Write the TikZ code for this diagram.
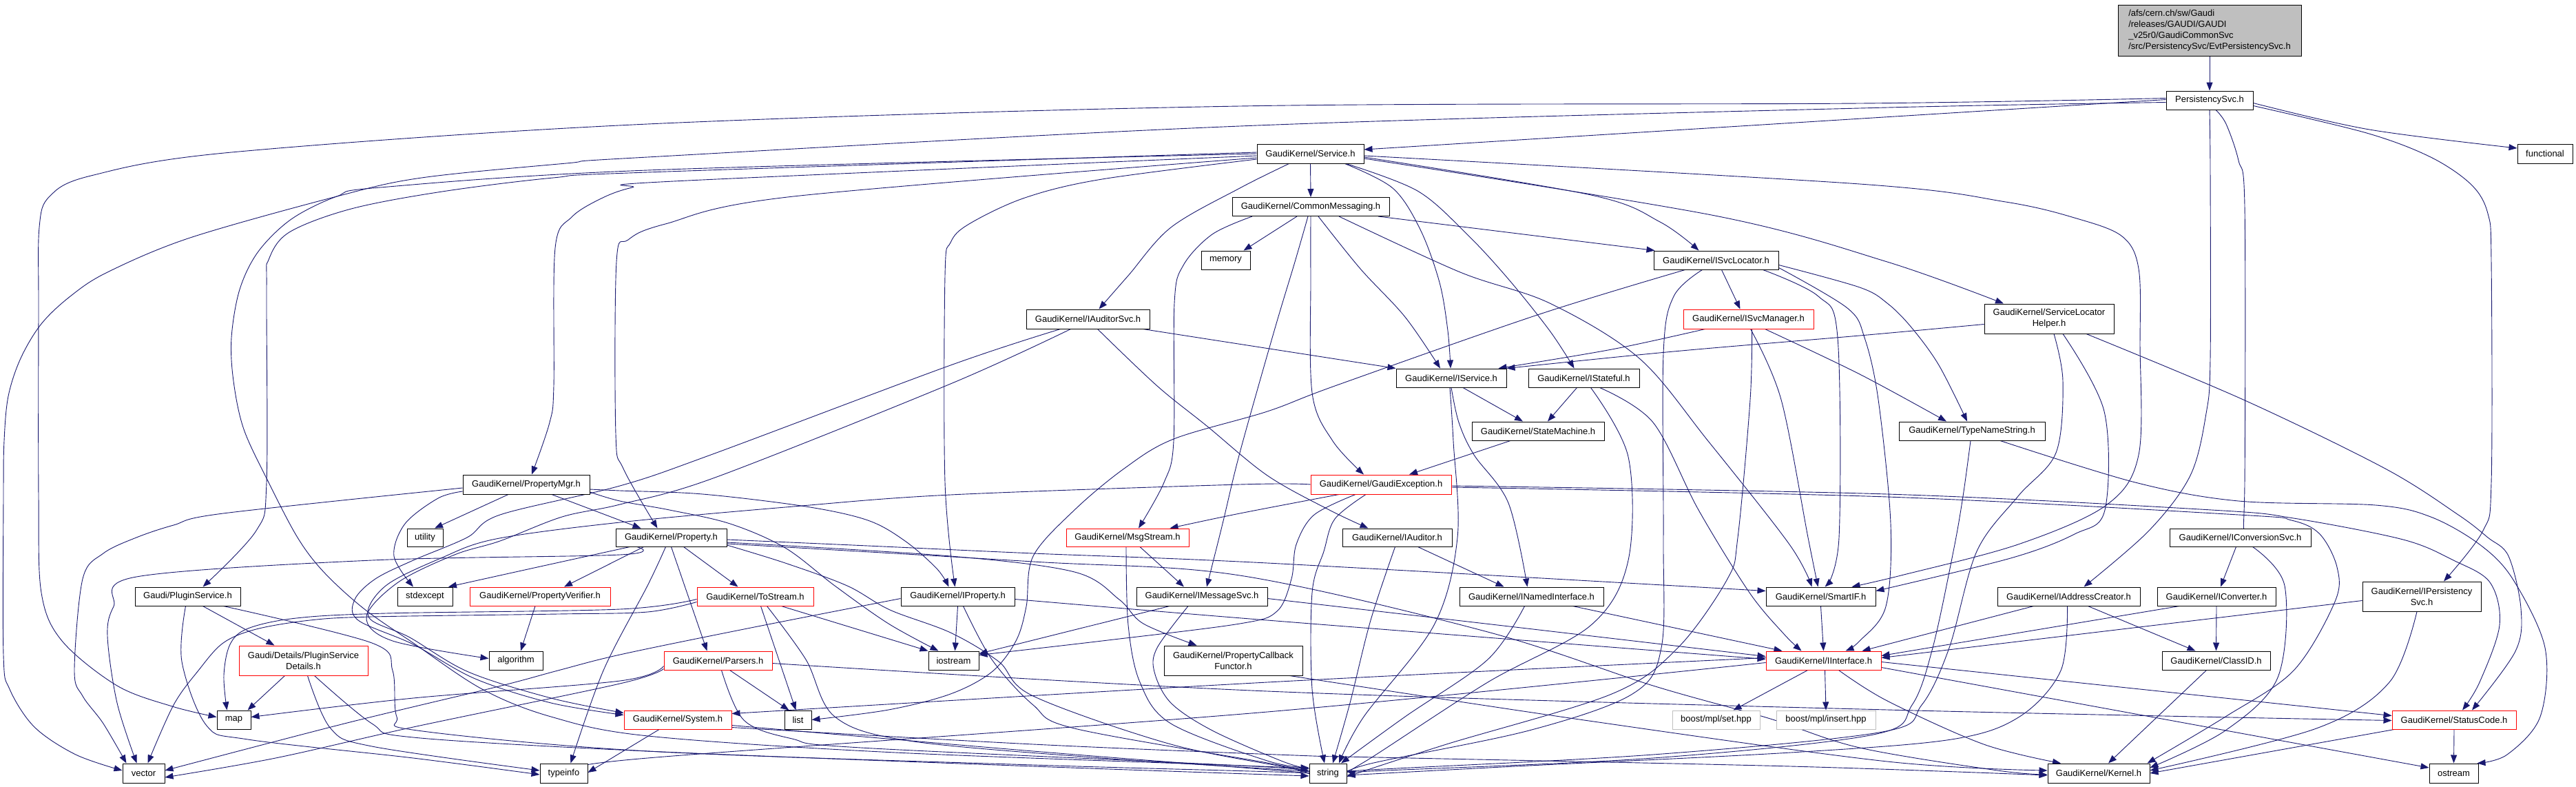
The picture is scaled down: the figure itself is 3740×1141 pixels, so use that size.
\documentclass[tikz,border=0pt]{standalone}
\usepackage{fontspec}
\setmainfont{Liberation Sans}
\usetikzlibrary{arrows.meta,backgrounds}
\definecolor{eblue}{RGB}{25,25,112}
\definecolor{rootgray}{RGB}{191,191,191}
\definecolor{lgray}{RGB}{191,191,191}
\tikzset{
 nd/.style={draw=black, line width=1pt, fill=white, inner sep=0pt, minimum height=27pt, font=\fontsize{13pt}{16pt}\selectfont, align=center},
 rd/.style={nd, draw=red},
 gr/.style={nd, draw=lgray},
 wd/.style={minimum width=#1pt},
 ht/.style={minimum height=#1pt},
 lnk/.style={draw=eblue, line width=0.9pt, -{Triangle[length=12pt,width=9pt]}},
}
\newcommand\curv[1]{\draw[lnk] plot[smooth,tension=0.55] coordinates {#1};}
\begin{document}
\begin{tikzpicture}[x=1pt,y=-1pt]
\useasboundingbox (0,0) rectangle (3740,1141);
% nodes
\node[nd, wd=266, ht=74, fill=rootgray, align=left] (root) at (3208,44) {/afs/cern.ch/sw/Gaudi\\/releases/GAUDI/GAUDI\\\_v25r0/GaudiCommonSvc\\/src/PersistencySvc/EvtPersistencySvc.h};
\node[nd, wd=126] (ps) at (3208,145.5) {PersistencySvc.h};
\node[nd, wd=80, ht=28] (func) at (3695,223) {functional};
\node[nd, wd=155, ht=28] (svc) at (1902.5,223) {GaudiKernel/Service.h};
\node[nd, wd=228] (cm) at (1903,300) {GaudiKernel/CommonMessaging.h};
\node[nd, wd=71] (mem) at (1779.5,377.5) {memory};
\node[nd, wd=181] (isl) at (2491.5,377.5) {GaudiKernel/ISvcLocator.h};
\node[nd, wd=179, ht=28] (ias) at (1579.5,463) {GaudiKernel/IAuditorSvc.h};
\node[rd, wd=189, ht=28] (ism) at (2538.5,463) {GaudiKernel/ISvcManager.h};
\node[nd, wd=188, ht=43] (slh) at (2975,462.5) {GaudiKernel/ServiceLocator\\Helper.h};
\node[nd, wd=160] (isv) at (2107,548.5) {GaudiKernel/IService.h};
\node[nd, wd=161] (ist) at (2299.5,548.5) {GaudiKernel/IStateful.h};
\node[nd, wd=192] (sm) at (2233,625.5) {GaudiKernel/StateMachine.h};
\node[nd, wd=212] (tns) at (2863,625.5) {GaudiKernel/TypeNameString.h};
\node[nd, wd=184, ht=28] (pmgr) at (764,703) {GaudiKernel/PropertyMgr.h};
\node[rd, wd=204, ht=28] (gex) at (2005,703) {GaudiKernel/GaudiException.h};
\node[nd, wd=52, ht=26] (util) at (617,780) {utility};
\node[nd, wd=161, ht=26] (prop) at (974.5,780) {GaudiKernel/Property.h};
\node[rd, wd=178, ht=26] (msg) at (1637,780) {GaudiKernel/MsgStream.h};
\node[nd, wd=159, ht=26] (iaud) at (2028.5,780) {GaudiKernel/IAuditor.h};
\node[nd, wd=205, ht=26] (ics) at (3252.5,780) {GaudiKernel/IConversionSvc.h};
\node[nd, wd=153] (plug) at (272.5,865.5) {Gaudi/PluginService.h};
\node[nd, wd=80] (stdx) at (617,865.5) {stdexcept};
\node[rd, wd=204] (pver) at (784,865.5) {GaudiKernel/PropertyVerifier.h};
\node[rd, wd=169] (tost) at (1096.5,865.5) {GaudiKernel/ToStream.h};
\node[nd, wd=165] (iprop) at (1390.5,865.5) {GaudiKernel/IProperty.h};
\node[nd, wd=190] (imsg) at (1745,865.5) {GaudiKernel/IMessageSvc.h};
\node[nd, wd=209] (inam) at (2223.5,865.5) {GaudiKernel/INamedInterface.h};
\node[nd, wd=159] (sif) at (2643.5,865.5) {GaudiKernel/SmartIF.h};
\node[nd, wd=207] (iac) at (3003.5,865.5) {GaudiKernel/IAddressCreator.h};
\node[nd, wd=172] (icv) at (3218,865.5) {GaudiKernel/IConverter.h};
\node[nd, wd=172, ht=43] (ipers) at (3516,865.5) {GaudiKernel/IPersistency\\Svc.h};
\node[rd, wd=187, ht=43] (psd) at (440.5,958.5) {Gaudi/Details/PluginService\\Details.h};
\node[nd, wd=78] (algo) at (749,958.5) {algorithm};
\node[rd, wd=157] (pars) at (1042.5,958.5) {GaudiKernel/Parsers.h};
\node[nd, wd=73] (iostr) at (1384.5,958.5) {iostream};
\node[nd, wd=201, ht=43] (pcf) at (1790.5,958.5) {GaudiKernel/PropertyCallback\\Functor.h};
\node[rd, wd=167] (iint) at (2647.5,958.5) {GaudiKernel/IInterface.h};
\node[nd, wd=157] (cid) at (3217.5,958.5) {GaudiKernel/ClassID.h};
\node[nd, wd=49] (map) at (339.5,1044.5) {map};
\node[rd, wd=156] (sys) at (984,1044.5) {GaudiKernel/System.h};
\node[nd, wd=39] (list) at (1158.5,1044.5) {list};
\node[gr, wd=127] (bset) at (2491.5,1044.5) {boost/mpl/set.hpp};
\node[gr, wd=144] (bins) at (2651,1044.5) {boost/mpl/insert.hpp};
\node[rd, wd=180] (stc) at (3563,1044.5) {GaudiKernel/StatusCode.h};
\node[nd, wd=61, ht=28] (vec) at (208.5,1122) {vector};
\node[nd, wd=69, ht=28] (tinf) at (818.5,1122) {typeinfo};
\node[nd, wd=54, ht=28] (str) at (1928,1122) {string};
\node[nd, wd=148, ht=28] (kern) at (3047,1122) {GaudiKernel/Kernel.h};
\node[nd, wd=71, ht=28] (ostr) at (3562.5,1122) {ostream};

\begin{scope}[on background layer]
\fill[white] (0,0) rectangle (3740,1141);
% root and PersistencySvc
\draw[lnk] (root.south) -- (ps.north);
\curv{([yshift=-4pt]ps.east) (3440,188) ([yshift=8pt]func.west)}
\draw[lnk] ([yshift=1pt]ps.west) -- ([yshift=6pt]svc.east);
\curv{([yshift=3pt]ps.west) (2700,150) (1800,154) (940,180) (336,221) (132,255) (72,285) (57,330) (56,450) (56,720) (60,860) (90,930) (170,995) (250,1025) ([yshift=4pt]map.west)}
\curv{([yshift=-3pt]ps.west) (2700,157) (1800,183) (940,228) (822,237) (612,258) (489,285) (276,345) (156,395) (102,430) (60,470) (30,520) (12,575) (6,640) (5,720) (5,950) (14,1000) (50,1055) (110,1095) ([yshift=4pt]vec.west)}
\curv{([xshift=9pt]ps.south) (3232,180) (3250,233) (3259,300) (3259,700) ([xshift=2pt]ics.north)}
\curv{(ps.south) (3209,250) (3209,520) (3203,600) (3180,690) (3120,770) ([xshift=22pt]iac.north)}
\curv{([yshift=-8pt]ps.east) (3436,193) (3529,228) (3588,268) (3612,310) (3617,380) (3617,700) (3605,770) ([xshift=32pt]ipers.north)}
% Service
\draw[lnk] (svc.south) -- (cm.north);
\curv{([yshift=-5pt]svc.east) (2310,283) (2410,322) ([xshift=-25pt]isl.north)}
\curv{([yshift=-3pt]svc.east) (2700,267) (2912,293) (3015,317) (3081,343) (3105,390) (3107,500) (3105,660) (3058,733) (2930,790) (2760,835) ([xshift=45pt]sif.north)}
\curv{([yshift=-7pt]svc.east) (2490,313) (2740,380) ([xshift=-66pt]slh.north)}
\curv{([xshift=50pt]svc.south) (2022,273) (2062,333) (2090,410) (2102,480) ([xshift=-1pt]isv.north)}
\curv{([xshift=52pt]svc.south) (2058,277) (2130,340) (2190,405) (2250,480) ([xshift=-14pt]ist.north)}
\curv{([xshift=-31pt]svc.south) (1800,273) (1700,330) (1638,400) ([xshift=16pt]ias.north)}
\curv{([yshift=-3pt]svc.west) (978,263) (918,272) (875,287) (830,315) (806,360) (804,560) (798,613) ([xshift=8pt]pmgr.north)}
\curv{([yshift=-6pt]svc.west) (1152,285) (966,325) (912,348) (895,380) (894,630) (905,680) ([xshift=-20pt]prop.north)}
\curv{([yshift=-8pt]svc.west) (1600,260) (1488,287) (1407,325) (1380,352) (1372,400) (1372,700) ([xshift=-4pt]iprop.north)}
\curv{([yshift=2pt]svc.west) (940,250) (803,258) (642,278) (510,303) (420,337) (390,377) (387,420) (387,700) (372,770) ([xshift=22pt]plug.north)}
\curv{(svc.west) (940,247) (552,272) (489,285) (423,318) (375,365) (348,420) (336,490) (339,553) (354,623) (390,700) (432,780) (470,830) (528,883) (600,933) (700,1000) (800,1040) (941,1068) (1300,1092) (1880,1114) ([yshift=3pt]str.west)}
% CommonMessaging
\draw[lnk] ([xshift=98pt]cm.south) -- ([xshift=2pt]isl.north west);
\draw[lnk] ([xshift=-20pt]cm.south) -- ([xshift=26pt]mem.north);
\curv{([xshift=-85pt]cm.south) (1760,340) (1718,385) (1705,440) (1704,640) (1690,700) ([xshift=16pt]msg.north)}
\curv{([xshift=-4pt]cm.south) (1880,380) (1850,480) (1800,657) (1775,760) ([xshift=7pt]imsg.north)}
\curv{(cm.south) (1903,400) (1905,570) (1935,640) ([xshift=-25pt]gex.north)}
\curv{([xshift=11pt]cm.south) (1975,390) (2040,460) ([xshift=-16pt]isv.north)}
\curv{([xshift=41pt]cm.south) (2120,395) (2250,440) (2380,520) (2480,640) (2598,790) ([xshift=-13pt]sif.north)}
% IAuditorSvc
\draw[lnk] ([xshift=80pt]ias.south) -- (isv.north west);
\curv{([xshift=14pt]ias.south) (1680,560) (1752,618) (1840,690) (1930,740) ([xshift=-42pt]iaud.north)}
\curv{([xshift=-40pt]ias.south) (1380,530) (1032,660) (900,705) (726,747) (678,780) (600,813) (545,840) (515,870) (520,900) (600,935) (690,985) (800,1020) ([yshift=7pt]sys.west)}
\curv{([xshift=-25pt]ias.south) (1380,557) (1038,693) (900,732) (816,750) (726,785) (660,805) (578,845) (532,895) (570,930) ([yshift=3pt]algo.west)}
% GaudiException
\curv{(gex.west) (1800,703) (1380,718) (1152,735) (900,758) (720,782) (640,810) (560,850) (535,895) (595,925) (680,975) (800,1013) ([yshift=10pt]sys.west)}
\curv{([yshift=-2pt]gex.east) (2740,717) (3211,740) (3330,752) (3489,783) (3562,813) (3615,845) (3629,907) (3600,990) ([xshift=12pt]stc.north)}
\curv{([yshift=-4pt]gex.east) (2740,721) (3250,747) (3327,755) (3368,775) (3393,823) (3390,873) (3330,973) (3231,1040) ([xshift=-4pt]kern.north east)}
\curv{([xshift=-61pt]gex.south) (1800,745) ([xshift=-28pt]msg.north east)}
\curv{([xshift=-22pt]gex.south) (1938,753) (1922,800) (1905,860) (1905,1000) ([xshift=-5pt]str.north)}
\curv{([xshift=-37pt]gex.south) (1908,747) (1882,790) (1875,840) (1854,887) (1800,905) (1600,930) ([yshift=8pt]iostr.east)}
% ISvcLocator
\curv{([xshift=-45pt]isl.south) (2232,457) (1938,560) (1840,597) (1704,637) (1632,680) (1560,740) (1500,807) (1490,880) (1475,930) (1440,975) (1380,1007) (1290,1030) (list.east)}
\draw[lnk] ([xshift=8pt]isl.south) -- ([xshift=-12pt]ism.north);
\curv{([yshift=-7pt]isl.east) (2700,417) (2740,440) (2775,475) (2815,530) ([xshift=-7pt]tns.north)}
\curv{([yshift=-11pt]isl.east) (2682,447) (2707,490) (2727,580) (2745,760) (2738,880) (2700,930) ([xshift=32pt]iint.north)}
\curv{([xshift=68pt]isl.south) (2640,430) (2668,490) (2670,780) ([xshift=6pt]sif.north)}
\curv{([xshift=-20pt]isl.south) (2430,430) (2415,513) (2415,780) (2412,940) (2370,1007) (2220,1060) (1990,1108) ([yshift=-2pt]str.east)}
% ISvcManager
\curv{([xshift=-63pt]ism.south) (2340,507) ([xshift=-12pt]isv.north east)}
\curv{([xshift=24pt]ism.south) (2700,543) ([xshift=-37pt]tns.north)}
\curv{([xshift=3pt]ism.south) (2586,580) (2625,780) ([xshift=-4pt]sif.north)}
\curv{([xshift=5pt]ism.south) (2541,580) (2523,780) (2508,840) (2436,940) (2340,1007) (2100,1080) ([yshift=-5pt]str.east)}
% IService, IStateful, StateMachine
\draw[lnk] ([xshift=17pt]isv.south) -- ([xshift=-22pt]sm.north);
\curv{(isv.south) (2118,613) (2140,660) (2190,730) ([xshift=-6pt]inam.north)}
\curv{([xshift=-2pt]isv.south) (2110,640) (2116,780) (2082,907) (1980,1040) ([xshift=16pt]str.north)}
\draw[lnk] ([xshift=-10pt]ist.south) -- ([xshift=14pt]sm.north);
\curv{([xshift=23pt]ist.south) (2400,613) (2466,740) (2540,860) (2590,920) ([xshift=-32pt]iint.north)}
\curv{([xshift=10pt]ist.south) (2364,663) (2364,813) (2310,907) (2160,990) (1990,1100) ([yshift=4pt]str.east)}
\draw[lnk] ([xshift=-40pt]sm.south) -- ([xshift=41pt]gex.north);
% ServiceLocatorHelper, TypeNameString
\curv{([yshift=-8pt]slh.west) (2700,487) (2430,510) (isv.north east)}
\curv{([xshift=20pt]slh.south) (3055,597) (3056,740) (3012,775) (2919,810) ([yshift=8pt]sif.east)}
\curv{([xshift=54pt]slh.south) (3257,580) (3463,680) (3569,747) (3612,780) (3642,807) (3660,883) (3652,945) ([xshift=26pt]stc.north)}
\curv{([xshift=7pt]slh.south) (2995,553) (2985,657) (2930,720) (2870,800) (2830,940) (2790,1023) (2733,1062) (2400,1095) (1990,1117) ([yshift=1pt]str.east)}
\curv{([xshift=-2pt]tns.south) (2850,720) (2836,800) (2806,940) (2776,1023) (2720,1066) (2400,1100) (1990,1119) (str.east)}
\curv{([xshift=41pt]tns.south) (3100,700) (3250,727) (3449,733) (3529,750) (3600,790) (3648,840) (3695,940) (3688,1040) (3640,1095) ([xshift=-2pt]ostr.north east)}
% IAuditor, INamedInterface, SmartIF
\draw[lnk] ([xshift=30pt]iaud.south) -- ([xshift=-40pt]inam.north);
\curv{([xshift=-3pt]iaud.south) (1990,900) (1960,1020) ([xshift=7pt]str.north)}
\draw[lnk] ([xshift=60pt]inam.south) -- ([xshift=-60pt]iint.north);
\curv{([xshift=-10pt]inam.south) (2160,957) (2040,1040) ([xshift=19pt]str.north)}
\draw[lnk] (sif.south) -- (iint.north);
% IInterface
\draw[lnk] ([xshift=-23pt]iint.south) -- ([xshift=25pt]bset.north);
\draw[lnk] ([xshift=2pt]iint.south) -- (bins.north);
\draw[lnk] ([yshift=-2pt]iint.east) -- ([yshift=6pt]stc.west);
\draw[lnk] ([yshift=-10pt]iint.east) -- ([yshift=8pt]ostr.west);
\curv{([xshift=22pt]iint.south) (2740,1017) (2880,1080) ([xshift=-55pt]kern.north)}
\curv{([yshift=4pt]iint.west) (1840,990) ([yshift=9pt]sys.east)}
\curv{([yshift=-3pt]iint.west) (1840,1033) (940,1100) ([yshift=5pt]tinf.east)}
% IAddressCreator, IConversionSvc, IConverter, IPersistencySvc, ClassID, StatusCode
\draw[lnk] ([xshift=-51pt]iac.south) -- ([xshift=-28pt]iint.north east);
\draw[lnk] ([xshift=28pt]iac.south) -- ([xshift=-30pt]cid.north);
\curv{([xshift=-2pt]iac.south) (2992,973) (2932,1040) (2833,1073) (2600,1092) (2200,1112) ([yshift=-3pt]str.east)}
\draw[lnk] ([xshift=-6pt]ics.south) -- ([xshift=6pt]icv.north);
\curv{([xshift=18pt]ics.south) (3317,850) (3307,983) (3231,1060) ([yshift=8pt]kern.east)}
\draw[lnk] ([xshift=-54pt]icv.south) -- ([yshift=7pt]iint.east);
\draw[lnk] (icv.south) -- (cid.north);
\draw[lnk] ([yshift=-6pt]ipers.west) -- ([yshift=4pt]iint.east);
\curv{([xshift=-7pt]ipers.south) (3469,990) (3363,1057) ([yshift=4pt]kern.east)}
\draw[lnk] ([xshift=-14pt]cid.south) -- ([xshift=14pt]kern.north);
\draw[lnk] (stc.south) -- (ostr.north);
\draw[lnk] ([xshift=-87pt]stc.south) -- (kern.east);
% PropertyMgr
\draw[lnk] ([xshift=37pt]pmgr.south) -- ([xshift=-44pt]prop.north);
\curv{([yshift=-7pt]pmgr.east) (900,712) (1020,717) (1170,735) (1260,755) (1314,785) (1360,825) ([xshift=-13pt]iprop.north)}
\curv{([yshift=-11pt]pmgr.east) (900,727) (972,740) (1060,760) (1140,795) (1212,850) (1290,905) ([xshift=-22pt]iostr.north)}
\draw[lnk] ([xshift=-26pt]pmgr.south) -- ([xshift=14pt]util.north);
\curv{([yshift=-10pt]pmgr.west) (636,723) (588,760) (572,807) ([xshift=-17pt]stdx.north)}
\curv{([yshift=-5pt]pmgr.west) (324,745) (252,762) (198,780) (150,803) (120,840) (108,973) (120,1010) (150,1050) ([xshift=-25pt]vec.north)}
% Property
\curv{([xshift=-60pt]prop.south) (780,823) ([xshift=34pt]stdx.north)}
\draw[lnk] ([xshift=-40pt]prop.south) -- ([xshift=35pt]pver.north);
\curv{([xshift=-50pt]prop.south) (900,805) (540,813) (198,837) (165,880) (156,923) (170,1020) ([xshift=-10pt]vec.north)}
\curv{([xshift=-8pt]prop.south) (940,850) (876,973) ([xshift=10pt]tinf.north)}
\draw[lnk] (prop.south) -- ([xshift=-16pt]pars.north);
\draw[lnk] ([xshift=18pt]prop.south) -- ([xshift=-25pt]tost.north);
\curv{([yshift=-3pt]prop.east) (1260,792) (1500,803) (1840,817) ([yshift=8pt]sif.west)}
\curv{([yshift=-7pt]prop.east) (1380,807) (1560,830) (1625,870) (1660,905) ([xshift=-53pt]pcf.north)}
\curv{([yshift=-11pt]prop.east) (1140,817) (1230,850) (1292,885) (1380,918) (1450,960) (1500,1010) (1700,1080) (1880,1116) ([yshift=-5pt]str.west)}
\curv{([yshift=-9pt]prop.east) (1500,815) (1800,835) (2160,917) (2400,995) (2567,1042) (2700,1085) (2900,1118) ([yshift=-2pt]kern.west)}
% ToStream
\draw[lnk] ([xshift=38pt]tost.south) -- (iostr.north west);
\draw[lnk] ([xshift=8pt]tost.south) -- ([xshift=-3pt]list.north);
\curv{([xshift=17pt]tost.south) (1170,957) (1212,1040) (1320,1075) (1600,1100) (1880,1118) ([yshift=1pt]str.west)}
\curv{([yshift=-8pt]tost.west) (940,888) (810,891) (540,895) (450,900) (372,913) (324,933) (288,973) (252,1023) ([xshift=6pt]vec.north)}
\curv{([yshift=-4pt]tost.west) (900,884) (560,890) (430,897) (360,912) (334,935) (325,980) ([xshift=-10pt]map.north)}
% Parsers
\draw[lnk] ([xshift=17pt]pars.south) -- ([xshift=-13pt]list.north);
\curv{([xshift=5pt]pars.south) (1080,1045) (1150,1072) (1250,1085) (1840,1113) ([yshift=-1pt]str.west)}
\curv{([yshift=-4pt]pars.east) (1840,1003) (2740,1030) ([yshift=-1pt]stc.west)}
\curv{([yshift=-8pt]pars.west) (900,988) (600,1013) ([yshift=4pt]map.east)}
\curv{([yshift=-12pt]pars.west) (900,992) (600,1055) (400,1100) ([yshift=-6pt]vec.east)}
% System
\draw[lnk] ([xshift=-27pt]sys.south) -- ([yshift=1pt]tinf.east);
\curv{([yshift=-8pt]sys.east) (1500,1090) (1880,1120) ([yshift=-2pt]str.west)}
\curv{([yshift=-11pt]sys.east) (1500,1080) (1880,1096) (2000,1099) (2600,1112) ([yshift=-3pt]kern.west)}
% PluginService & details
\draw[lnk] ([xshift=22pt]plug.south) -- ([xshift=-42pt]psd.north);
\curv{([xshift=-3pt]plug.south) (264,960) (300,1053) (360,1073) (600,1100) ([yshift=-2pt]tinf.west)}
\curv{([xshift=52pt]plug.south) (540,933) (570,973) (576,1040) (606,1060) (940,1090) (1500,1110) (1880,1121) ([yshift=-3pt]str.west)}
\draw[lnk] ([xshift=-27pt]psd.south) -- ([xshift=20pt]map.north);
\curv{([xshift=6pt]psd.south) (480,1057) (540,1083) ([yshift=4pt]tinf.west)}
\curv{([xshift=16pt]psd.south) (540,1050) (600,1070) (940,1090) (1500,1112) ([yshift=-4pt]str.west)}
\draw[lnk] ([xshift=-7pt]pver.south) -- ([xshift=7pt]algo.north);
% IProperty
\draw[lnk] (iprop.south) -- ([xshift=2pt]iostr.north);
\curv{([xshift=8pt]iprop.south) (1440,957) (1500,1023) (1560,1057) (1840,1107) ([yshift=2pt]str.west)}
\curv{([yshift=-4pt]iprop.east) (1840,900) ([yshift=2pt]iint.west)}
\curv{([yshift=-3pt]iprop.west) (1080,913) (900,950) (810,973) (720,997) (500,1050) ([yshift=4pt]vec.east)}
% IMessageSvc, MsgStream, PropertyCallbackFunctor
\draw[lnk] ([xshift=-47pt]imsg.south) -- ([yshift=10pt]iostr.east);
\curv{([xshift=-20pt]imsg.south) (1680,940) (1676,975) (1700,1020) (1760,1060) (1860,1104) ([yshift=6pt]str.west)}
\curv{([yshift=-3pt]imsg.east) (2200,910) ([yshift=6pt]iint.west)}
\draw[lnk] ([xshift=18pt]msg.south) -- ([xshift=-26pt]imsg.north);
\curv{([xshift=-2pt]msg.south) (1638,907) (1655,990) (1700,1050) (1840,1104) ([yshift=8pt]str.west)}
\curv{([xshift=82pt]pcf.south) (2300,1045) (2740,1105) ([yshift=4pt]kern.west)}
\end{scope}
\end{tikzpicture}
\end{document}
